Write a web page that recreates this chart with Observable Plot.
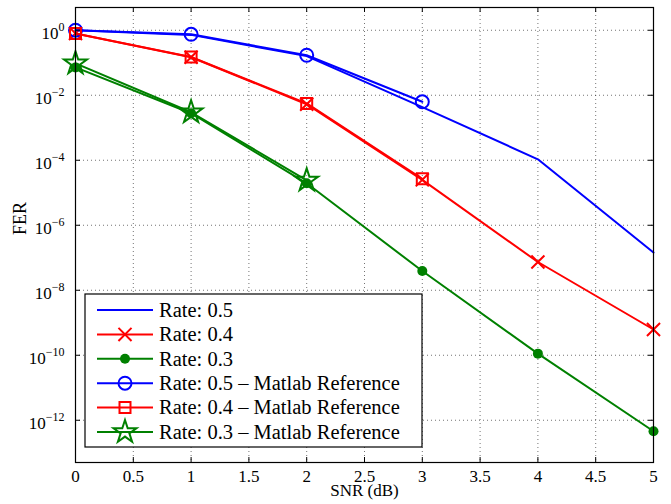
<!DOCTYPE html>
<html><head><meta charset="utf-8">
<script src="https://cdn.jsdelivr.net/npm/d3@7"></script>
<script src="https://cdn.jsdelivr.net/npm/@observablehq/plot@0.6"></script>
<style>body{margin:0;background:#fff}</style>
</head><body><div id="chart"></div>
<script>
// ---- data ----
const snr = [0, 1, 2, 3, 4, 5];
const snrRef = [0, 1, 2, 3];
const rate05 = [1.0, 0.72, 0.16, 4.3e-3, 1.07e-4, 1.45e-7];
const rate04 = [0.80, 0.148, 5.3e-3, 2.5e-5, 7.4e-8, 6.2e-10];
const rate03 = [0.072, 2.8e-3, 1.95e-5, 3.9e-8, 1.12e-10, 4.6e-13];
const rate05Ref = [1.0, 0.75, 0.17, 6.3e-3];
const rate04Ref = [0.80, 0.150, 5.6e-3, 2.7e-5];
const rate03Ref = [0.096, 3.0e-3, 2.4e-5];
const xTicks = [0, 0.5, 1, 1.5, 2, 2.5, 3, 3.5, 4, 4.5, 5];
const yExponents = [0, -2, -4, -6, -8, -10, -12];
const yTicks = yExponents.map(e => Math.pow(10, e));
const legendLabels = ["Rate: 0.5", "Rate: 0.4", "Rate: 0.3",
  "Rate: 0.5 \u2013 Matlab Reference", "Rate: 0.4 \u2013 Matlab Reference", "Rate: 0.3 \u2013 Matlab Reference"];
const xLabel = "SNR (dB)";
const yLabel = "FER";

const BLUE = "#0000ff", RED = "#ff0000", GREEN = "#008000";
const FONT = "'Liberation Serif', 'Times New Roman', serif";

const toRows = (xs, ys) => xs.map((x, i) => ({x, y: ys[i]}));
const d05 = toRows(snr, rate05), d04 = toRows(snr, rate04), d03 = toRows(snr, rate03);
const r05 = toRows(snrRef, rate05Ref), r04 = toRows(snrRef, rate04Ref), r03 = toRows(snrRef, rate03Ref);

const W = 671, H = 504, ML = 75, MR = 18, MT = 7, MB = 42;
const FW = W - ML - MR, FH = H - MT - MB;
const grid = {stroke: "#000", strokeOpacity: 0.55, strokeWidth: 1, strokeDasharray: "1,3"};
const LW = 2;

const svg = Plot.plot({
  width: W, height: H,
  marginLeft: ML, marginRight: MR, marginTop: MT, marginBottom: MB,
  style: {fontFamily: FONT, fontSize: "17px", background: "#fff", color: "#000"},
  x: {domain: [0, 5]},
  y: {type: "log", domain: [Math.pow(10, -13.3), Math.pow(10, 0.7)]},
  marks: [
    Plot.ruleX(xTicks, {x: d => d, ...grid}),
    Plot.ruleY(yTicks, {y: d => d, ...grid}),
    // simulated
    Plot.line(d05, {x: "x", y: "y", stroke: BLUE, strokeWidth: LW}),
    Plot.line(d04, {x: "x", y: "y", stroke: RED, strokeWidth: LW}),
    Plot.dot(d04, {x: "x", y: "y", symbol: "times", r: 6, stroke: RED, strokeWidth: LW}),
    Plot.line(d03, {x: "x", y: "y", stroke: GREEN, strokeWidth: LW}),
    Plot.dot(d03, {x: "x", y: "y", r: 5, fill: GREEN, stroke: "none"}),
    // references
    Plot.line(r05, {x: "x", y: "y", stroke: BLUE, strokeWidth: LW}),
    Plot.dot(r05, {x: "x", y: "y", symbol: "circle", r: 6.5, stroke: BLUE, fill: "none", strokeWidth: LW}),
    Plot.line(r04, {x: "x", y: "y", stroke: RED, strokeWidth: LW}),
    Plot.dot(r04, {x: "x", y: "y", symbol: "square", r: 6.2, stroke: RED, fill: "none", strokeWidth: LW}),
    Plot.line(r03, {x: "x", y: "y", stroke: GREEN, strokeWidth: LW}),
    Plot.dot(r03, {x: "x", y: "y", symbol: "star", r: 7.2, stroke: GREEN, fill: "none", strokeWidth: LW}),
    // inward ticks
    Plot.tickX(xTicks, {x: d => d, insetTop: FH - 5, stroke: "#000"}),
    Plot.tickX(xTicks, {x: d => d, insetBottom: FH - 5, stroke: "#000"}),
    Plot.tickY(yTicks, {y: d => d, insetRight: FW - 5, stroke: "#000"}),
    Plot.tickY(yTicks, {y: d => d, insetLeft: FW - 5, stroke: "#000"}),
    Plot.frame({stroke: "#000", strokeWidth: 1.2}),
    Plot.axisX({ticks: xTicks, tickSize: 0, tickPadding: 7, tickFormat: d => String(d), label: null, fontSize: 17}),
    Plot.axisY({ticks: yTicks, tickSize: 0, tickPadding: 11, tickFormat: d => "10^" + Math.round(Math.log10(d)), label: null, fontSize: 17, dy: 3}),
    Plot.text([xLabel], {frameAnchor: "bottom", text: d => d, dy: 33, fontSize: 17}),
    Plot.text([yLabel], {frameAnchor: "left", text: d => d, rotate: -90, dx: -55, fontSize: 18})
  ]
});

// superscript exponents on y tick labels
d3.select(svg).selectAll('g[aria-label="y-axis tick label"] text').each(function() {
  const t = d3.select(this);
  const s = t.text();
  const m = s.match(/^10\^(-?\d+)$/);
  if (!m) return;
  const e = +m[1];
  t.text("");
  t.append("tspan").text("10");
  t.append("tspan").attr("dy", "-0.62em").attr("font-size", 12).text(e < 0 ? "\u2212" + (-e) : String(e));
});

// legend
const lg = d3.select(svg).append("g").attr("font-family", FONT).attr("font-size", 20.5).attr("text-anchor", "start");
lg.append("rect").attr("x", 85).attr("y", 294).attr("width", 337).attr("height", 153)
  .attr("fill", "#fff").attr("stroke", "#000").attr("stroke-width", 1.2);
const items = [
  {c: BLUE, sym: null}, {c: RED, sym: d3.symbolTimes, r: 6}, {c: GREEN, sym: "dot"},
  {c: BLUE, sym: d3.symbolCircle, r: 6.5}, {c: RED, sym: d3.symbolSquare, r: 6.2}, {c: GREEN, sym: d3.symbolStar, r: 7.2}
];
items.forEach((it, i) => {
  const y = 310 + i * 24.4;
  lg.append("line").attr("x1", 97).attr("x2", 153).attr("y1", y).attr("y2", y)
    .attr("stroke", it.c).attr("stroke-width", LW);
  if (it.sym === "dot") {
    lg.append("circle").attr("cx", 125).attr("cy", y).attr("r", 5).attr("fill", it.c);
  } else if (it.sym) {
    lg.append("path").attr("transform", `translate(125,${y})`)
      .attr("d", d3.symbol(it.sym, Math.PI * it.r * it.r)())
      .attr("fill", "none").attr("stroke", it.c).attr("stroke-width", LW);
  }
  lg.append("text").attr("x", 159).attr("y", y).attr("dy", "0.33em").attr("text-anchor", "start").text(legendLabels[i]);
});

document.getElementById("chart").appendChild(svg);
</script>
</body></html>
